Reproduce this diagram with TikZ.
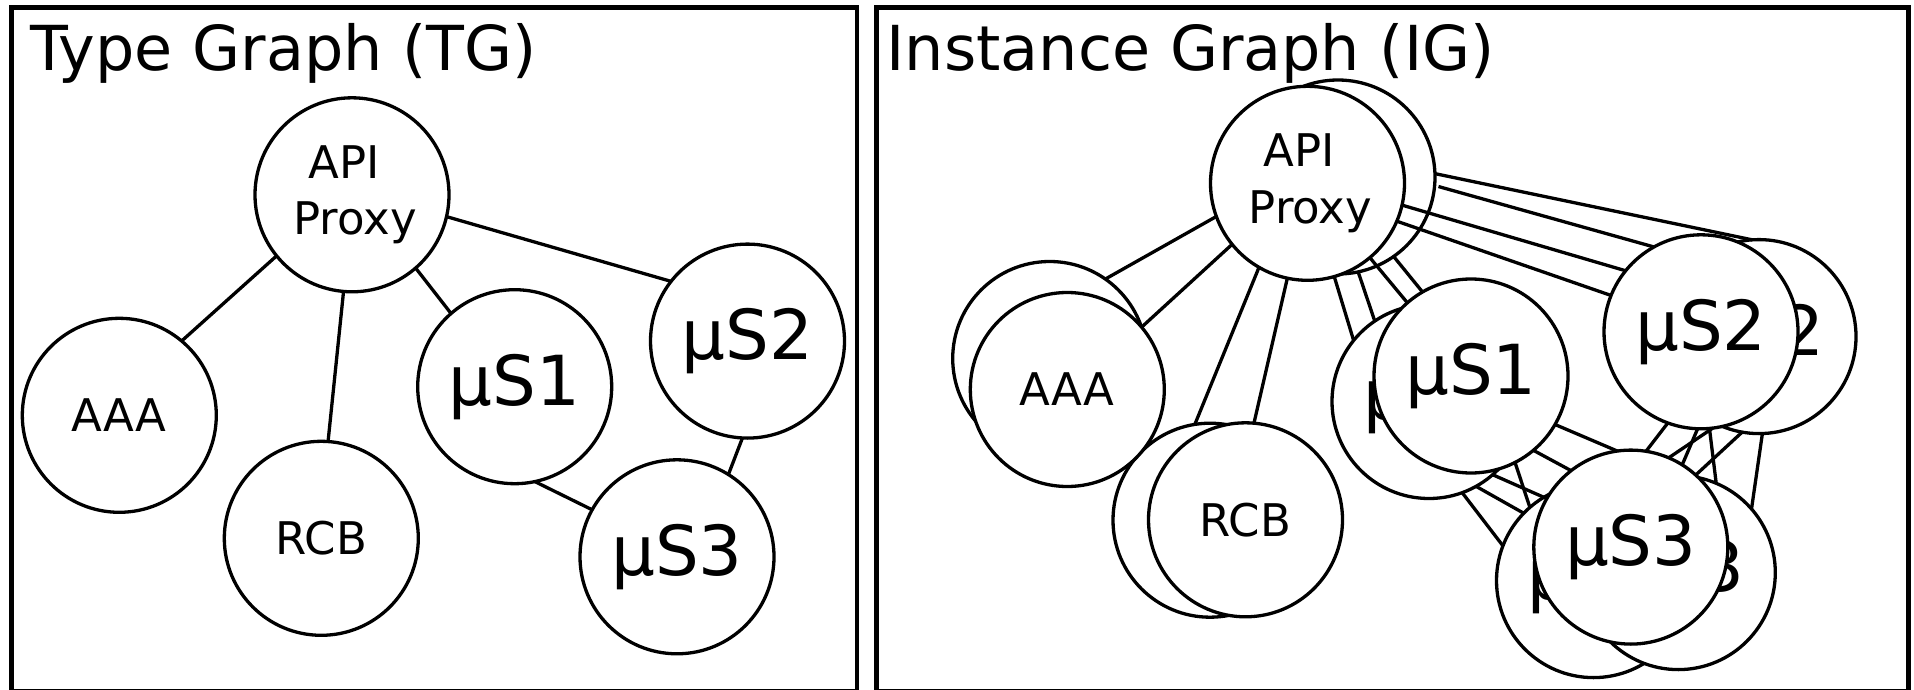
\documentclass[tikz,border=0pt]{standalone}
\usepackage{fontspec}
\setmainfont{DejaVu Sans}
\begin{document}
\begin{tikzpicture}[x=1pt, y=-1pt,
  entity/.style={circle, draw, fill=white, line width=3.3pt,
    minimum size=194pt, inner sep=0pt, outer sep=0pt, align=center,
    font=\fontsize{45}{56.3}\selectfont},
  service/.style={entity, font=\fontsize{69}{80}\selectfont},
  link/.style={line width=3.3pt},
  panel/.style={draw, line width=4.5pt},
  heading/.style={anchor=base west, inner sep=0pt, outer sep=0pt,
    font=\fontsize{62}{70}\selectfont}]
\useasboundingbox (0,0) rectangle (1914,690);
\clip (0,0) rectangle (1914,690);

% the two panels and their headings
\draw[panel] (11.5,7.7) rectangle (857,691.5);
\draw[panel] (876.5,7.7) rectangle (1908.5,691.5);
\node[heading] (tgTitle) at (30.5,71) {Type Graph (TG)};
\node[heading] (igTitle) at (886.6,71) {Instance Graph (IG)};

% ---------- type graph ----------
\node[entity]  (tApi) at (352,194.8) {API\hspace*{16pt}\\\hspace*{6pt}Proxy};
\node[entity]  (tAaa) at (119.3,415.3) {AAA};
\node[entity]  (tRcb) at (321.3,538.3) {RCB};
\node[service] (tS1)  at (514.7,386.7) {µS1};
\node[service] (tS2)  at (747.5,341.1) {µS2};
\node[service] (tS3)  at (677,556.8) {µS3};

\draw[link] (tApi.219)   -- (tAaa.50.1);
\draw[link] (tApi.265.3) -- (tRcb.86.4);
\draw[link] (tApi.311.1) -- (tS1.131.6);
\draw[link] (tApi.347.8) -- (tS2.142.4);
\draw[link] (tS2.267.7)  -- (tS3.58.3);
\draw[link] (tS1.282.3)  -- (tS3.151);

% ---------- instance graph: second instances behind ----------
\node[entity]  (iApiB) at (1338,177) {};
\node[entity]  (iAaaB) at (1049.7,358.5) {};
\node[entity]  (iRcbB) at (1210,520.2) {};
\node[service] (iS1B)  at (1429,401.5) {µS1};
\node[service] (iS2B)  at (1759,336.6) {µS2};
\node[service] (iS3L)  at (1593.5,580.6) {µS3};
\node[service] (iS3R)  at (1678.3,572.6) {µS3};

% first instances in front
\node[entity]  (iApiF) at (1307.5,183.3) {API\hspace*{16pt}\\\hspace*{6pt}Proxy};
\node[entity]  (iAaaF) at (1067.3,389.5) {AAA};
\node[entity]  (iRcbF) at (1245.5,519.8) {RCB};
\node[service] (iS1F)  at (1471,376) {µS1};
\node[service] (iS2F)  at (1701,331.8) {µS2};
\node[service] (iS3F)  at (1630.8,547.1) {µS3};

% proxy to AAA and RCB
\draw[link] (iApiF.200)   -- (iAaaB.55.1);
\draw[link] (iApiF.219.3) -- (iAaaF.40.8);
\draw[link] (iApiF.240.9) -- (iRcbB.99.8);
\draw[link] (iApiF.258.1) -- (iRcbF.85);

% proxy to µS1
\draw[link] (iApiF.286.1) -- (iS1B.141.7);
\draw[link] (iApiB.282.5) -- (iS1B.124.9);
\draw[link] (iApiF.310.4) -- (iS1F.131.2);
\draw[link] (iApiB.305.9) -- (iS1F.120.3);

% proxy to µS2
\draw[link] (iApiB.2.2)   -- (iS2B.94.3);
\draw[link, shorten <=4pt] (iApiB.355) -- (iS2F.119.1);
\draw[link] (iApiF.347.4) -- (iS2F.141.7);
\draw[link] (iApiF.337.1) -- (iS2F.158.7);

% µS1 to µS3
\draw[link] (iS1F.330.1) -- (iS3F.98.6);
\draw[link] (iS1F.310.8) -- (iS3F.128.6);
\draw[link] (iS1F.297.2) -- (iS3L.131);
\draw[link] (iS1B.311.8) -- (iS3F.150.4);
\draw[link] (iS1B.299.2) -- (iS3L.136.9);
\draw[link] (iS1B.290.5) -- (iS3L.159.1);

% µS2 to µS3
\draw[link] (iS2F.250)   -- (iS3F.81.4);
\draw[link] (iS2F.268.4) -- (iS3F.58);
\draw[link] (iS2F.277.7) -- (iS3F.67.2);
\draw[link] (iS2F.275.9) -- (iS3R.67);
\draw[link] (iS2B.260.9) -- (iS3F.48);
\draw[link] (iS2B.272.1) -- (iS3R.41.2);
\end{tikzpicture}
\end{document}
